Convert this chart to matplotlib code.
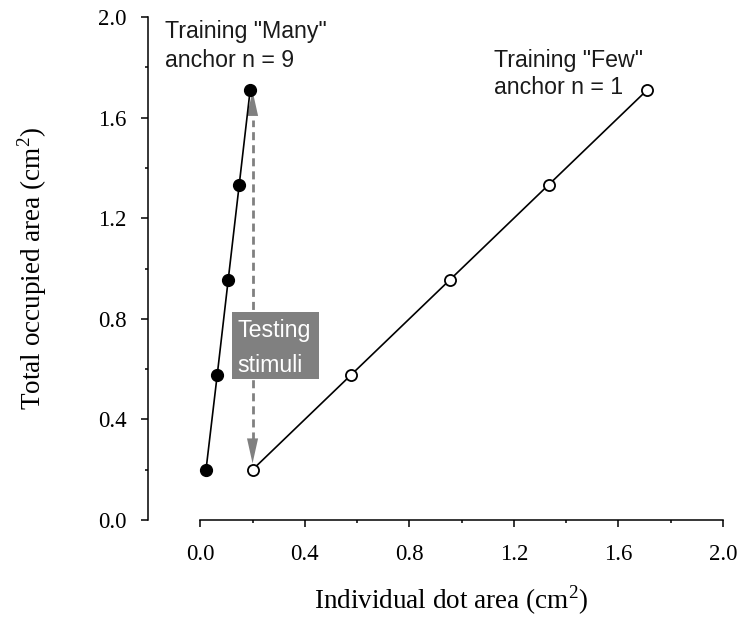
import matplotlib
matplotlib.use("Agg")
import matplotlib.pyplot as plt
from matplotlib.patches import Rectangle

# Total occupied area of each stimulus (cm^2)
total_area = [0.200, 0.578, 0.956, 1.333, 1.711]
# Individual dot area for the "Many" anchor (n = 9) and the "Few" anchor (n = 1)
many_dot_area = [0.022, 0.065, 0.107, 0.149, 0.191]
few_dot_area = [0.200, 0.578, 0.956, 1.333, 1.711]
# Testing stimuli: fixed dot area spanning the total-area range
test_dot_area = 0.2
test_total_range = [0.2, 1.711]

major_ticks = [0.0, 0.4, 0.8, 1.2, 1.6, 2.0]
minor_ticks = [0.2, 0.6, 1.0, 1.4, 1.8]
tick_labels = ["0.0", "0.4", "0.8", "1.2", "1.6", "2.0"]

SERIF = "Liberation Serif"
SANS = "Liberation Sans"
GRAY = "#808080"

fig = plt.figure(figsize=(7.41, 6.17), dpi=100)
ax = fig.add_axes([148 / 741, 1 - 520 / 617, 575 / 741, 503 / 617])

ax.set_xlim(-0.2, 2.0)
ax.set_ylim(0.0, 2.0)
for side in ("top", "right"):
    ax.spines[side].set_visible(False)
ax.spines["bottom"].set_bounds(0.0, 2.0)
for side in ("left", "bottom"):
    ax.spines[side].set_linewidth(1.1)

ax.set_xticks(major_ticks)
ax.set_xticklabels(tick_labels)
ax.set_yticks(major_ticks)
ax.set_yticklabels(tick_labels)
ax.set_xticks(minor_ticks, minor=True)
ax.set_yticks(minor_ticks, minor=True)
ax.tick_params(which="major", direction="out", length=5, width=1.1,
               labelsize=16.5)
ax.tick_params(which="minor", direction="out", length=2.3, width=1.1)
ax.tick_params(axis="x", which="major", pad=12.3)
ax.tick_params(axis="y", which="major", pad=10.5)
for lab in ax.get_xticklabels() + ax.get_yticklabels():
    lab.set_fontfamily(SERIF)

ax.set_xlabel("Individual dot area (cm$^\\mathregular{2}$)",
              fontfamily=SERIF, fontsize=19.5)
ax.set_ylabel("Total occupied area (cm$^\\mathregular{2}$)",
              fontfamily=SERIF, fontsize=19.5)
ax.xaxis.set_label_coords(0.527, -0.126)
ax.yaxis.set_label_coords(-0.172, 0.5)

# Training series
ax.plot(many_dot_area, total_area, "-o", color="black", lw=1.2, ms=8.5,
        clip_on=False, zorder=3)
ax.plot(few_dot_area, total_area, "-o", color="black", lw=1.2, ms=8,
        mfc="white", mec="black", mew=1.3, clip_on=False, zorder=3)

# Testing stimuli: dashed double arrow at constant dot area
lo, hi = test_total_range
ax.plot([test_dot_area, test_dot_area], [lo + 0.12, hi - 0.12], color=GRAY,
        lw=2, ls=(0, (2.9, 1.8)), zorder=2)
head = dict(arrowstyle="-|>,head_length=1.8,head_width=0.4",
            mutation_scale=10, color=GRAY, lw=0, shrinkA=0, shrinkB=0)
ax.annotate("", xy=(test_dot_area, hi - 0.005),
            xytext=(test_dot_area, hi - 0.3), arrowprops=head, zorder=2)
ax.annotate("", xy=(test_dot_area, lo + 0.025),
            xytext=(test_dot_area, lo + 0.3), arrowprops=head, zorder=2)

ax.add_patch(Rectangle((0.122, 0.561), 0.3315, 0.2656, facecolor=GRAY,
                       edgecolor="none", zorder=4))
ax.text(0.143, 0.726, "Testing", color="white", fontfamily=SANS,
        fontsize=16.7, va="baseline", zorder=5)
ax.text(0.143, 0.590, "stimuli", color="white", fontfamily=SANS,
        fontsize=16.7, va="baseline", zorder=5)

# Anchor captions
ax.text(-0.134, 1.917, 'Training "Many"', fontfamily=SANS, fontsize=16.7,
        va="baseline", color="#1a1a1a")
ax.text(-0.134, 1.803, "anchor n = 9", fontfamily=SANS, fontsize=16.7,
        va="baseline", color="#1a1a1a")
ax.text(1.1255, 1.801, 'Training "Few"', fontfamily=SANS, fontsize=16.7,
        va="baseline", color="#1a1a1a")
ax.text(1.1255, 1.692, "anchor n = 1", fontfamily=SANS, fontsize=16.7,
        va="baseline", color="#1a1a1a")

fig.savefig("out.png", dpi=100)
